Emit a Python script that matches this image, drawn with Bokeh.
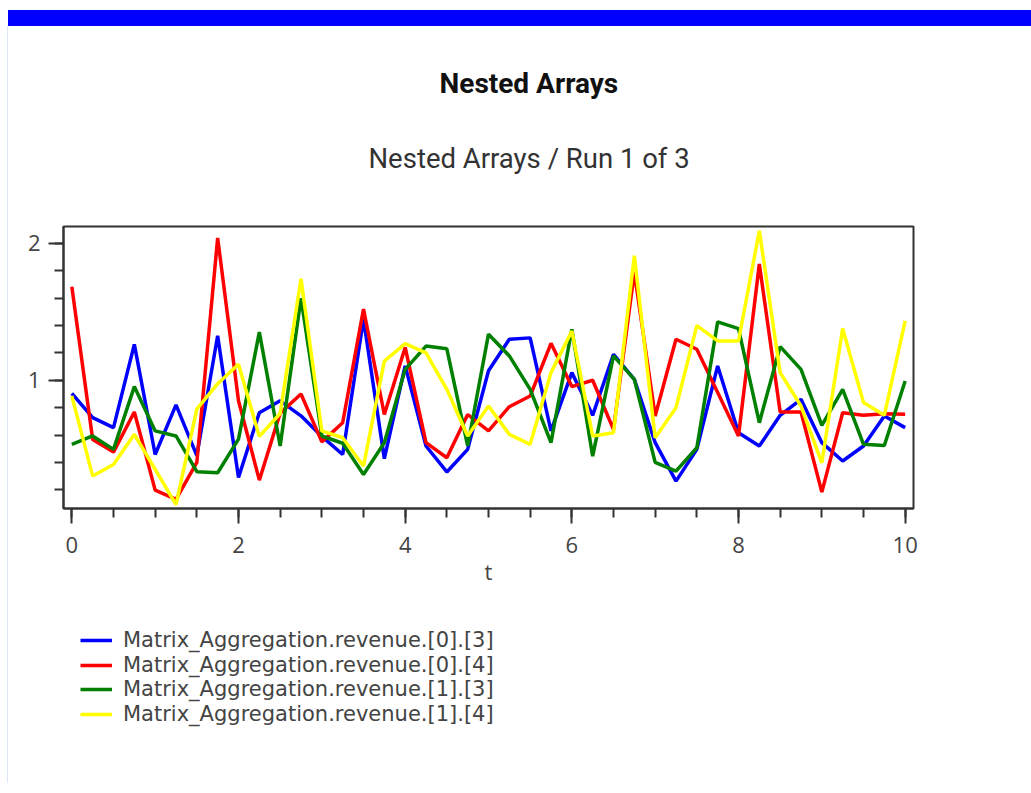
from bokeh.plotting import figure
from bokeh.models import (Range1d, SingleIntervalTicker, Title, Legend, LegendItem, Div)
from bokeh.layouts import column
from bokeh.embed import file_html
from bokeh.resources import INLINE

t = [i * 0.25 for i in range(41)]

rev_0_3 = [0.905, 0.727, 0.654, 1.263, 0.458, 0.82, 0.45, 1.325, 0.29, 0.763, 0.85, 0.74, 0.59, 0.458,
           1.446, 0.427, 1.105, 0.52, 0.33, 0.495, 1.07, 1.30, 1.31, 0.63, 1.056, 0.744, 1.19,
           1.007, 0.544, 0.263, 0.495, 1.105, 0.617, 0.52, 0.744, 0.861, 0.544, 0.41, 0.52, 0.739, 0.654]
rev_0_4 = [1.683, 0.568, 0.475, 0.768, 0.197, 0.129, 0.40, 2.04, 0.85, 0.27, 0.76, 0.90, 0.55, 0.69,
           1.52, 0.75, 1.24, 0.544, 0.434, 0.75, 0.63, 0.807, 0.885, 1.27, 0.954, 1.0, 0.64,
           1.79, 0.739, 1.30, 1.227, 0.91, 0.593, 1.85, 0.768, 0.768, 0.183, 0.763, 0.744, 0.756, 0.751]
rev_1_3 = [0.532, 0.593, 0.495, 0.954, 0.63, 0.593, 0.332, 0.324, 0.57, 1.352, 0.52, 1.60, 0.593, 0.54,
           0.312, 0.544, 1.08, 1.25, 1.23, 0.52, 1.337, 1.178, 0.934, 0.544, 1.373, 0.446, 1.178,
           1.007, 0.40, 0.336, 0.507, 1.427, 1.378, 0.69, 1.246, 1.08, 0.67, 0.934, 0.532, 0.524, 0.995]
rev_1_4 = [0.885, 0.30, 0.385, 0.605, 0.349, 0.092, 0.79, 0.975, 1.117, 0.59, 0.757, 1.742, 0.63, 0.58,
           0.373, 1.14, 1.268, 1.20, 0.934, 0.593, 0.812, 0.605, 0.532, 1.056, 1.36, 0.593, 0.617,
           1.91, 0.58, 0.80, 1.40, 1.288, 1.288, 2.093, 1.056, 0.812, 0.397, 1.378, 0.837, 0.744, 1.434]

series_names = ["Matrix_Aggregation.revenue.[0].[3]", "Matrix_Aggregation.revenue.[0].[4]",
                "Matrix_Aggregation.revenue.[1].[3]", "Matrix_Aggregation.revenue.[1].[4]"]
series_values = [rev_0_3, rev_0_4, rev_1_3, rev_1_4]
series_colors = ["#0000ff", "#ff0000", "#008000", "#ffff00"]

TICK_FONT = "Open Sans"
LEGEND_FONT = "DejaVu Sans"
EDGE = {"box-shadow": "-1px 0 0 0 #dde7f3"}

p = figure(frame_width=850, frame_height=282,
           x_range=Range1d(-0.1, 10.1), y_range=Range1d(0.063, 2.124),
           output_backend="svg", toolbar_location=None, margin=(0, 0, 0, 8),
           min_border_left=55, min_border_right=110, min_border_top=200, min_border_bottom=95,
           styles=EDGE)

# outermost title
p.title.text = "Nested Arrays"
p.title.text_font = "Roboto"
p.title.text_font_style = "bold"
p.title.text_font_size = "28px"
p.title.text_color = "#111111"
p.title.align = "left"
p.title.offset = 376
p.title.standoff = 70

# nearest the frame first: spacer, then subtitle
spacer_top = Title(text=" ", text_font_size="1px", standoff=44)
p.add_layout(spacer_top, "above")
subtitle = Title(text="Nested Arrays / Run 1 of 3", text_font="Roboto", text_font_style="normal",
                 text_font_size="27.5px", text_color="#333333", align="left", offset=305,
                 standoff=10)
p.add_layout(subtitle, "above")

p.xgrid.visible = False
p.ygrid.visible = False
p.outline_line_color = "#333333"
p.outline_line_width = 2

p.xaxis.ticker = SingleIntervalTicker(interval=2, num_minor_ticks=4)
p.yaxis.ticker = SingleIntervalTicker(interval=1, num_minor_ticks=5)
for ax in (p.xaxis[0], p.yaxis[0]):
    ax.axis_line_color = "#333333"
    ax.axis_line_width = 2
    ax.major_tick_line_color = "#333333"
    ax.minor_tick_line_color = "#333333"
    ax.major_tick_line_width = 2
    ax.minor_tick_line_width = 2
    ax.major_tick_out = 15
    ax.major_tick_in = 0
    ax.minor_tick_out = 9
    ax.minor_tick_in = 0
    ax.major_label_text_font = TICK_FONT
    ax.major_label_text_font_size = "22px"
    ax.major_label_text_color = "#444444"
p.xaxis.major_label_standoff = 13
p.yaxis.major_label_standoff = 8
p.xaxis.axis_label = "t"
p.xaxis.axis_label_text_font = TICK_FONT
p.xaxis.axis_label_text_font_style = "normal"
p.xaxis.axis_label_text_font_size = "22px"
p.xaxis.axis_label_text_color = "#444444"
p.xaxis.axis_label_standoff = 0

for name, vals, col in zip(series_names, series_values, series_colors):
    p.line(t, vals, line_color=col, line_width=3.5)

# legend area below the chart (its own frame, so the legend is not clipped);
# the series are drawn there far outside its visible range, only to style the legend keys
lg = figure(width=1023, height=180, x_range=Range1d(0, 1), y_range=Range1d(100, 101),
            x_axis_type=None, y_axis_type=None, output_backend="svg", toolbar_location=None,
            min_border=0, margin=(0, 0, 0, 8), outline_line_color=None, styles=EDGE)
lg.xgrid.visible = False
lg.ygrid.visible = False

ROW_PITCH = 24.5
for i, (name, vals, col) in enumerate(zip(series_names, series_values, series_colors)):
    r = lg.line(t, vals, line_color=col, line_width=3.5)
    leg = Legend(items=[LegendItem(label=name, renderers=[r])],
                 location=(17, 126 - ROW_PITCH * i),
                 label_text_font=LEGEND_FONT, label_text_font_size="21px",
                 label_text_color="#444444", glyph_width=32, glyph_height=20,
                 label_height=34, label_standoff=11, spacing=0, padding=0, margin=0,
                 border_line_color=None, background_fill_alpha=0)
    lg.add_layout(leg, "center")

bar = Div(text="", width=1023, height=16, margin=(10, 0, 0, 8),
          styles={"background-color": "#0000ff"})

layout = column(bar, p, lg, spacing=0)

open("out.html", "w").write(file_html(layout, INLINE))
